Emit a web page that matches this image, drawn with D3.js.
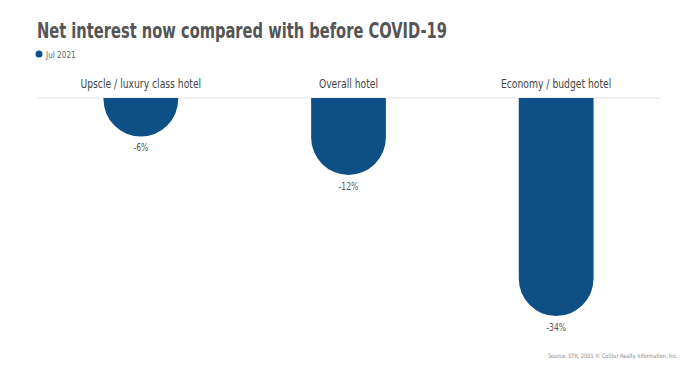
<!DOCTYPE html>
<html>
<head>
<meta charset="utf-8">
<script src="https://cdn.jsdelivr.net/npm/d3@7"></script>
<style>
  body { margin: 0; background: #fff; }
  text { font-family: "DejaVu Sans Condensed", "Liberation Sans Narrow", "Roboto", sans-serif; }
</style>
</head>
<body>
<div id="chart"></div>
<script>
var categories = ["Upscle / luxury class hotel", "Overall hotel", "Economy / budget hotel"];
var values = [-6, -12, -34];
var seriesName = "Jul 2021";
var title = "Net interest now compared with before COVID-19";
var source = "Source: STR, 2021 \u00a9 CoStar Realty Information, Inc.";

var W = 700, H = 367;
var margin = { top: 98, right: 40, bottom: 51, left: 37 };
var color = "#0e4f86";

var svg = d3.select("#chart").append("svg")
	.attr("width", W)
	.attr("height", H);

var x = d3.scaleBand()
	.domain(categories)
	.range([margin.left, W - margin.right])
	.paddingInner(0.64)
	.paddingOuter(0.32);

var y = d3.scaleLinear()
	.domain([0, -34])
	.range([margin.top, 316]);

// squeeze text horizontally, the original uses a condensed face
function condense(sel, k) {
	sel.each(function() {
		var len = this.getComputedTextLength();
		d3.select(this)
			.attr("textLength", len * k)
			.attr("lengthAdjust", "spacingAndGlyphs");
	});
}

// title + legend
svg.append("text")
	.attr("x", 37).attr("y", 38)
	.attr("font-size", 22)
	.attr("font-weight", "bold")
	.attr("fill", "#555")
	.text(title)
	.attr("textLength", 410)
	.attr("lengthAdjust", "spacingAndGlyphs");

svg.append("circle")
	.attr("cx", 39).attr("cy", 54).attr("r", 3.5)
	.attr("fill", color);
svg.append("text")
	.attr("x", 46).attr("y", 57.5)
	.attr("font-size", 9)
	.attr("fill", "#666")
	.text(seriesName)
	.call(condense, 0.9);

// baseline
svg.append("line")
	.attr("x1", margin.left).attr("x2", 660)
	.attr("y1", y(0)).attr("y2", y(0))
	.attr("stroke", "#e4e4e4")
	.attr("stroke-width", 1);

// category labels
svg.selectAll(".cat")
	.data(categories)
	.enter().append("text")
	.attr("class", "cat")
	.attr("x", function(d) { return x(d) + x.bandwidth() / 2; })
	.attr("y", 88)
	.attr("text-anchor", "middle")
	.attr("font-size", 12.5)
	.attr("fill", "#444")
	.text(function(d) { return d; })
	.call(condense, 0.82);

// bars with rounded bottom
var data = categories.map(function(c, i) { return { cat: c, value: values[i] }; });

svg.selectAll(".bar")
	.data(data)
	.enter().append("path")
	.attr("class", "bar")
	.attr("fill", color)
	.attr("d", function(d) {
		var x0 = x(d.cat), w = x.bandwidth(), r = w / 2;
		var y0 = y(0), y1 = y(d.value);
		var yr = Math.max(y0, y1 - r);
		var p = d3.path();
		p.moveTo(x0, y0);
		p.lineTo(x0, yr);
		p.arc(x0 + r, yr, r, Math.PI, 0, true);
		p.lineTo(x0 + w, y0);
		p.closePath();
		return p.toString();
	});

// value labels
svg.selectAll(".val")
	.data(data)
	.enter().append("text")
	.attr("class", "val")
	.attr("x", function(d) { return x(d.cat) + x.bandwidth() / 2; })
	.attr("y", function(d) { return y(d.value) + 15; })
	.attr("text-anchor", "middle")
	.attr("font-size", 10)
	.attr("fill", "#555")
	.text(function(d) { return d.value + "%"; })
	.call(condense, 0.85);

// source
svg.append("text")
	.attr("x", 678).attr("y", 358)
	.attr("text-anchor", "end")
	.attr("font-size", 6)
	.attr("fill", "#888")
	.text(source)
	.call(condense, 0.92);
</script>
</body>
</html>
